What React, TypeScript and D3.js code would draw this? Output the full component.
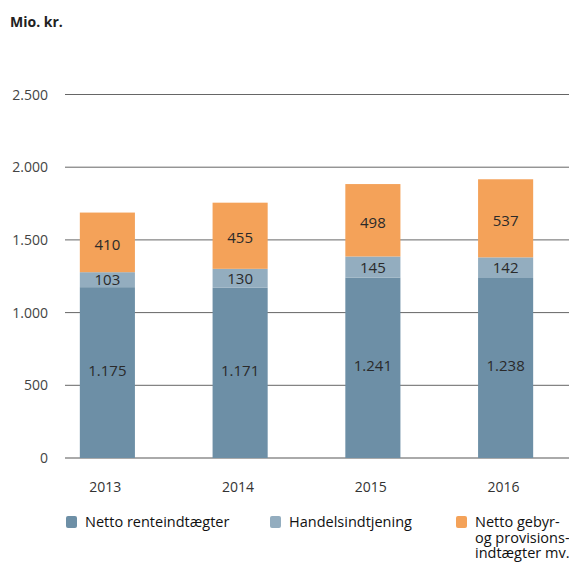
import React from "react";
import * as d3 from "d3";

const years = ["2013", "2014", "2015", "2016"];
const renteindtaegter = [1175, 1171, 1241, 1238];
const handelsindtjening = [103, 130, 145, 142];
const gebyr = [410, 455, 498, 537];
const yTicks = [0, 500, 1000, 1500, 2000, 2500];
const seriesNames = ["Netto renteindtægter", "Handelsindtjening", "Netto gebyr-|og provisions-|indtægter mv."];
const colors = ["#6d8fa6", "#93adbf", "#f4a259"];

const fmt = (v: number) => d3.format(",")(v).replace(/,/g, ".");

export default function App() {
  const W = 569, H = 563;
  const x = d3.scaleBand<string>().domain(years).range([41, 572]).paddingInner(0.585).paddingOuter(0.2925);
  const y = d3.scaleLinear().domain([0, 2500]).range([458, 94.5]);
  const series = [renteindtaegter, handelsindtjening, gebyr];
  const data = years.map((yr, i) => ({ yr, a: renteindtaegter[i], b: handelsindtjening[i], c: gebyr[i] }));
  const stack = d3.stack<any>().keys(["a", "b", "c"])(data);
  const font = "'Open Sans', 'DejaVu Sans', sans-serif";
  const legendX = [66, 270, 456];
  const labelShift = [-2, 0, 2];
  return (
    <svg width={W} height={H} style={{ position: "absolute", left: 0, top: 0, fontFamily: font }}>
      <text x={10} y={27} fontSize={14} fontWeight="bold" fill="#222">Mio. kr.</text>
      {yTicks.map((t) => (
        <g key={t}>
          <line x1={65} x2={569} y1={y(t)} y2={y(t)} stroke={t === 0 ? "#aaa" : "#666"} strokeWidth={t === 0 ? 2 : 1} />
          <text x={48} y={y(t) + 5} fontSize={14} textAnchor="end" fill="#444">{fmt(t)}</text>
        </g>
      ))}
      {stack.map((s, si) => (
        <g key={si}>
          {s.map((d, i) => (
            <g key={i}>
              <rect x={x(years[i])} width={x.bandwidth()} y={y(d[1])} height={y(d[0]) - y(d[1])} fill={colors[si]} />
              <text x={(x(years[i]) as number) + x.bandwidth() / 2} y={(y(d[0]) + y(d[1])) / 2 + 5.5 + labelShift[si]} fontSize={15} textAnchor="middle" fill="#2a2a2a">{fmt(series[si][i])}</text>
            </g>
          ))}
        </g>
      ))}
      {years.map((yr) => (
        <text key={yr} x={(x(yr) as number) + x.bandwidth() / 2 - 2} y={492} fontSize={14} textAnchor="middle" fill="#333">{yr}</text>
      ))}
      {seriesNames.map((n, i) => (
        <g key={n}>
          <rect x={legendX[i]} y={516} width={11} height={12} rx={2} fill={colors[i]} />
          {n.split("|").map((l, li) => (
            <text key={li} x={legendX[i] + 19} y={527 + li * 15.5} fontSize={14.5} fill="#111">{l}</text>
          ))}
        </g>
      ))}
    </svg>
  );
}
